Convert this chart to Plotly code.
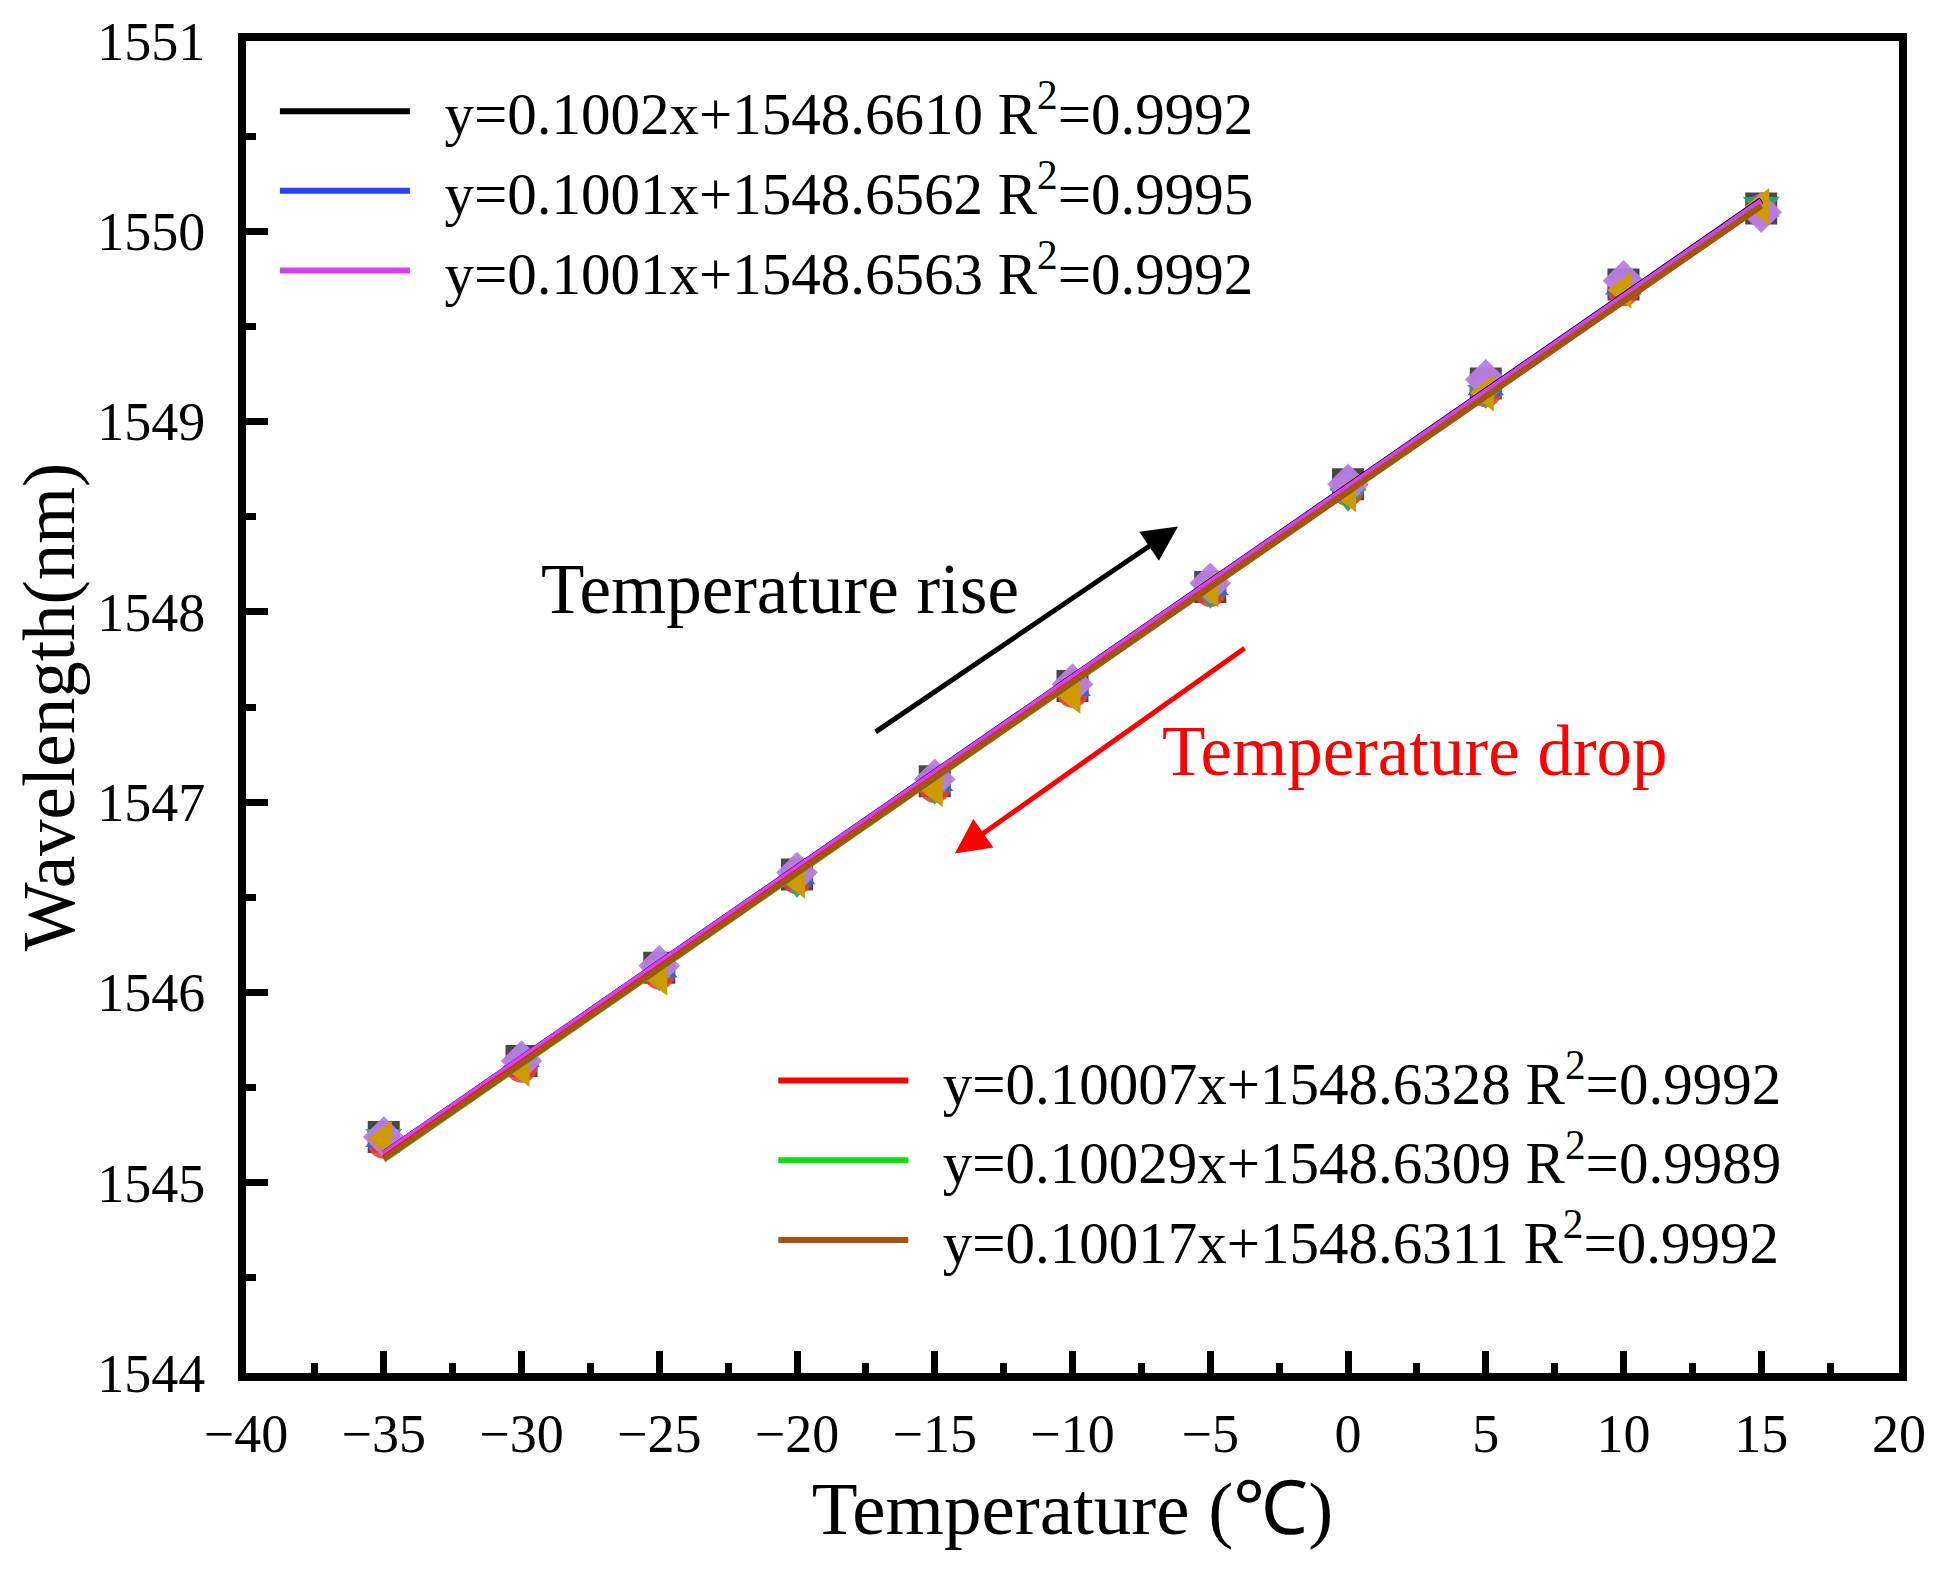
import plotly.graph_objects as go

# ---------------- data ----------------
temperature = [-35, -30, -25, -20, -15, -10, -5, 0, 5, 10, 15]

wl_square = [1545.24, 1545.64, 1546.13, 1546.62, 1547.11, 1547.61, 1548.13, 1548.67, 1549.20, 1549.72, 1550.12]
wl_circle = [1545.21, 1545.61, 1546.10, 1546.60, 1547.08, 1547.58, 1548.11, 1548.64, 1549.16, 1549.69, 1550.11]
wl_tri_up = [1545.23, 1545.65, 1546.12, 1546.61, 1547.10, 1547.60, 1548.13, 1548.68, 1549.18, 1549.71, 1550.12]
wl_tri_down = [1545.24, 1545.61, 1546.09, 1546.58, 1547.07, 1547.58, 1548.10, 1548.61, 1549.15, 1549.70, 1550.14]
wl_diamond = [1545.24, 1545.64, 1546.14, 1546.63, 1547.12, 1547.62, 1548.15, 1548.67, 1549.22, 1549.74, 1550.10]
wl_tri_left = [1545.23, 1545.60, 1546.08, 1546.59, 1547.07, 1547.56, 1548.12, 1548.62, 1549.15, 1549.69, 1550.13]

series_values = [wl_square, wl_circle, wl_tri_up, wl_tri_down, wl_diamond, wl_tri_left]
marker_symbols = ["square", "circle", "triangle-up", "triangle-down", "diamond", "triangle-left"]
marker_colors = ["rgba(40,40,40,0.85)", "rgba(235,60,55,0.9)", "rgba(30,110,225,0.95)",
                 "rgba(40,165,110,0.95)", "rgba(185,125,225,0.95)", "rgba(205,155,0,1)"]

fit_slopes = [0.1002, 0.1001, 0.1001, 0.10007, 0.10029, 0.10017]
fit_intercepts = [1548.6610, 1548.6562, 1548.6563, 1548.6328, 1548.6309, 1548.6311]
fit_r2 = ["0.9992", "0.9995", "0.9992", "0.9992", "0.9989", "0.9992"]
fit_slope_labels = ["0.1002", "0.1001", "0.1001", "0.10007", "0.10029", "0.10017"]
fit_intercept_labels = ["1548.6610", "1548.6562", "1548.6563", "1548.6328", "1548.6309", "1548.6311"]
fit_colors = ["#000000", "#2442ff", "#d83ef6", "#ff0000", "#10dd10", "#a8520f"]
fit_legends = ["legend", "legend", "legend", "legend2", "legend2", "legend2"]

x_ticks = [-40, -35, -30, -25, -20, -15, -10, -5, 0, 5, 10, 15, 20]
y_ticks = [1544, 1545, 1546, 1547, 1548, 1549, 1550, 1551]

SERIF = "Liberation Serif"
NB = "\u00a0"

fig = go.Figure()

for vals, sym, col in zip(series_values, marker_symbols, marker_colors):
    fig.add_trace(go.Scatter(
        x=temperature, y=vals, mode="markers", showlegend=False,
        marker=dict(symbol=sym, size=32, color=col, line=dict(width=0)),
    ))

x_fit = [temperature[0], temperature[-1]]
for a, b, r2, al, bl, col, lg in zip(fit_slopes, fit_intercepts, fit_r2, fit_slope_labels,
                                      fit_intercept_labels, fit_colors, fit_legends):
    fig.add_trace(go.Scatter(
        x=x_fit, y=[a * xv + b for xv in x_fit], mode="lines",
        line=dict(color=col, width=6),
        name=f"{NB*2}y={al}x+{bl}{NB}R<sup>2</sup>={r2}",
        legend=lg,
    ))

axis_common = dict(
    showline=True, linecolor="black", linewidth=8, mirror=True,
    ticks="inside", ticklen=22, tickwidth=7, tickcolor="black",
    showgrid=False, zeroline=False,
    tickfont=dict(family=SERIF, size=54, color="black"),
)

fig.update_xaxes(
    range=[-40, 20], tickvals=x_ticks,
    minor=dict(ticks="inside", ticklen=10, tickwidth=7, tickcolor="black", dtick=2.5, tick0=0, showgrid=False),
    title=dict(text="Temperature (℃)", font=dict(family=SERIF, size=75, color="black"), standoff=22),
    ticklabelstandoff=6,
    **axis_common,
)
fig.update_yaxes(
    range=[1544, 1551], tickvals=y_ticks,
    minor=dict(ticks="inside", ticklen=10, tickwidth=7, tickcolor="black", dtick=0.5, tick0=1544, showgrid=False),
    title=dict(text="Wavelength(nm)", font=dict(family=SERIF, size=73, color="black"), standoff=2),
    ticklabelstandoff=22,
    **axis_common,
)

fig.add_annotation(x=-6.17, y=1548.448, ax=-17.2, ay=1547.364, xref="x", yref="y", axref="x", ayref="y",
                   showarrow=True, arrowhead=2, arrowsize=1.4, arrowwidth=5, arrowcolor="black", text="")
fig.add_annotation(x=-14.27, y=1546.73, ax=-3.70, ay=1547.814, xref="x", yref="y", axref="x", ayref="y",
                   showarrow=True, arrowhead=2, arrowsize=1.4, arrowwidth=5, arrowcolor="red", text="")
fig.add_annotation(x=-20.6, y=1548.12, xref="x", yref="y", showarrow=False, text="Temperature rise",
                   font=dict(family=SERIF, size=71, color="black"))
fig.add_annotation(x=2.43, y=1547.27, xref="x", yref="y", showarrow=False, text="Temperature drop",
                   font=dict(family=SERIF, size=71, color="red"))

legend_common = dict(bgcolor="rgba(0,0,0,0)", borderwidth=0, itemwidth=130,
                     font=dict(family=SERIF, size=59, color="black"),
                     xanchor="left", yanchor="top", tracegroupgap=0)
fig.update_layout(
    width=1944, height=1570,
    margin=dict(l=246, r=45, t=37, b=197),
    paper_bgcolor="white", plot_bgcolor="white",
    legend=dict(x=0.0175, y=0.981, **legend_common),
    legend2=dict(x=0.319, y=0.2532, **legend_common),
)

fig.write_html("out.html")
